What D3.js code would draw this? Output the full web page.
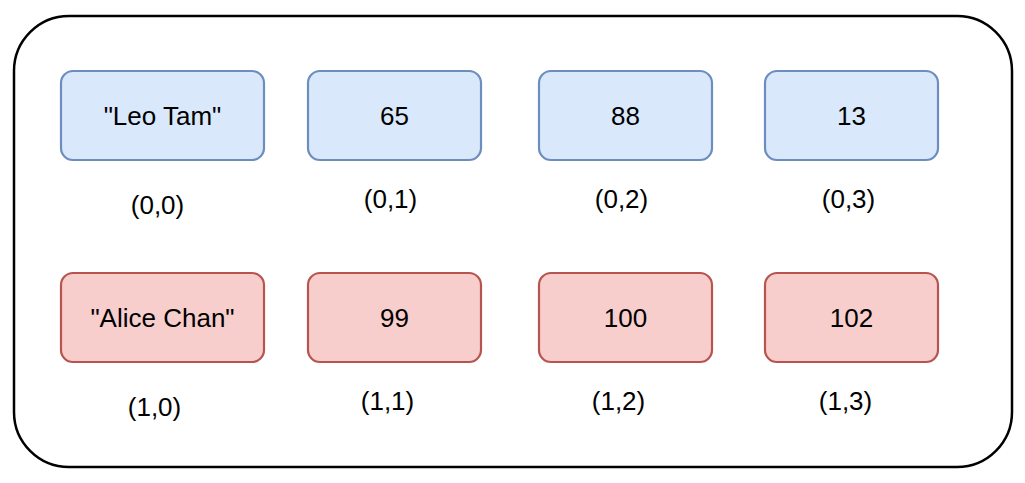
<!DOCTYPE html>
<html>
<head>
<meta charset="utf-8">
<script src="https://cdn.jsdelivr.net/npm/d3@7"></script>
<style>
  body { margin: 0; background: #fff; }
  text { font-family: "Liberation Sans", Arial, sans-serif; }
</style>
</head>
<body>
<div id="chart"></div>
<script>
var svgWidth = 1025;
var svgHeight = 483;

// Data
var rows = [0, 1];
var cols = [0, 1, 2, 3];
var row0Values = ["\"Leo Tam\"", "65", "88", "13"];
var row1Values = ["\"Alice Chan\"", "99", "100", "102"];
var values = [row0Values, row1Values];

var cells = [];
rows.forEach(function(r) {
  cols.forEach(function(c) {
    cells.push({ row: r, col: c, value: values[r][c], label: "(" + r + "," + c + ")" });
  });
});

// Layout scales
var xLeft = d3.scaleOrdinal().domain(cols).range([61, 308, 539, 765]);
var cellWidth = d3.scaleOrdinal().domain(cols).range([203, 173, 173, 173]);
var yTop = d3.scaleOrdinal().domain(rows).range([71, 273]);
var labelDx = d3.scaleOrdinal().domain(cols).range([-5, -4, -4, -3]);
var fill = d3.scaleOrdinal().domain(rows).range(["#dae8fc", "#f8cecc"]);
var stroke = d3.scaleOrdinal().domain(rows).range(["#6c8ebf", "#b85450"]);
var cellHeight = 89;

var svg = d3.select("#chart")
  .append("svg")
  .attr("width", svgWidth)
  .attr("height", svgHeight);

// outer container
svg.append("rect")
  .attr("x", 14)
  .attr("y", 16)
  .attr("width", 998)
  .attr("height", 451)
  .attr("rx", 55)
  .attr("fill", "#fff")
  .attr("stroke", "#000")
  .attr("stroke-width", 2.5);

var g = svg.selectAll("g.cell")
  .data(cells)
  .enter()
  .append("g")
  .attr("class", "cell");

g.append("rect")
  .attr("x", d => xLeft(d.col))
  .attr("y", d => yTop(d.row))
  .attr("width", d => cellWidth(d.col))
  .attr("height", cellHeight)
  .attr("rx", 12)
  .attr("fill", d => fill(d.row))
  .attr("stroke", d => stroke(d.row))
  .attr("stroke-width", 2.2);

g.append("text")
  .attr("x", d => xLeft(d.col) + cellWidth(d.col) / 2)
  .attr("y", d => yTop(d.row) + cellHeight / 2)
  .attr("dy", "0.35em")
  .attr("text-anchor", "middle")
  .style("font-size", "26px")
  .attr("fill", "#000")
  .text(d => d.value);

g.append("text")
  .attr("x", d => xLeft(d.col) + cellWidth(d.col) / 2 + labelDx(d.col) - d.row * 3)
  .attr("y", d => yTop(d.row) + cellHeight + (d.col === 0 ? 45 : 39))
  .attr("dy", "0.35em")
  .attr("text-anchor", "middle")
  .style("font-size", "26px")
  .attr("fill", "#000")
  .text(d => d.label);
</script>
</body>
</html>
